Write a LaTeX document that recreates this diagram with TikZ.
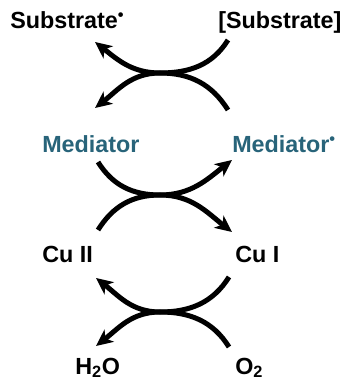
\documentclass[tikz,border=0pt]{standalone}
\usepackage{fontspec}
\setmainfont{Liberation Sans}
\usepackage{tikz}
\usetikzlibrary{positioning}
\usetikzlibrary{arrows.meta}
\definecolor{medteal}{RGB}{40,100,122}
\begin{document}
\begin{tikzpicture}[x=0.75pt,y=0.75pt]

\tikzset{species/.style={
		anchor=base west,
		inner sep=0pt,
		font=\fontsize{17.5}{20}\selectfont\bfseries
	},
	mediator/.style={species, text=medteal},
	swap arrow/.style={
		line width=3.75pt,
		-{Stealth[length=12.5pt,width=11.5pt,inset=3.5pt]}
	}
}
\useasboundingbox (0,0) rectangle (346,379);
%labels
\node[species] (subrad) at (10,350) {Substrate\textsuperscript{•}};
\node[species] (sub) at (218,350) {[Substrate]};
\node[mediator] (med) at (42,226) {Mediator};
\node[mediator] (medrad) at (232,226) {Mediator\textsuperscript{•}};
\node[species] (cutwo) at (42,116) {Cu II};
\node[species] (cuone) at (235,116) {Cu I};
\node[species] (water) at (75,5) {H\textsubscript{2}O};
\node[species] (oxygen) at (235,5) {O\textsubscript{2}};
%curve ends
\coordinate (e1) at (228,339); \coordinate (a1) at (95,337);
\coordinate (e2) at (228,269); \coordinate (a2) at (95,271);
\coordinate (c1) at (160,306);
\coordinate (s3) at (98,217); \coordinate (a3) at (232,219);
\coordinate (s4) at (98,149); \coordinate (a4) at (232,147);
\coordinate (c2) at (160,184);
\coordinate (e5) at (229,102); \coordinate (a5) at (96,101);
\coordinate (e6) at (229,32); \coordinate (a6) at (96,33);
\coordinate (c3) at (160,67);
%top
\draw[swap arrow] (e1) to[out=-122,in=0] (c1) to[out=180,in=-38] (a1);
\draw[swap arrow] (e2) to[out=122,in=0] (c1) to[out=180,in=38] (a2);
%middle
\draw[swap arrow] (s3) to[out=-58,in=180] (c2) to[out=0,in=-142] (a3);
\draw[swap arrow] (s4) to[out=58,in=180] (c2) to[out=0,in=142] (a4);
%bottom
\draw[swap arrow] (e5) to[out=-122,in=0] (c3) to[out=180,in=-38] (a5);
\draw[swap arrow] (e6) to[out=122,in=0] (c3) to[out=180,in=38] (a6);
\end{tikzpicture}
\end{document}
